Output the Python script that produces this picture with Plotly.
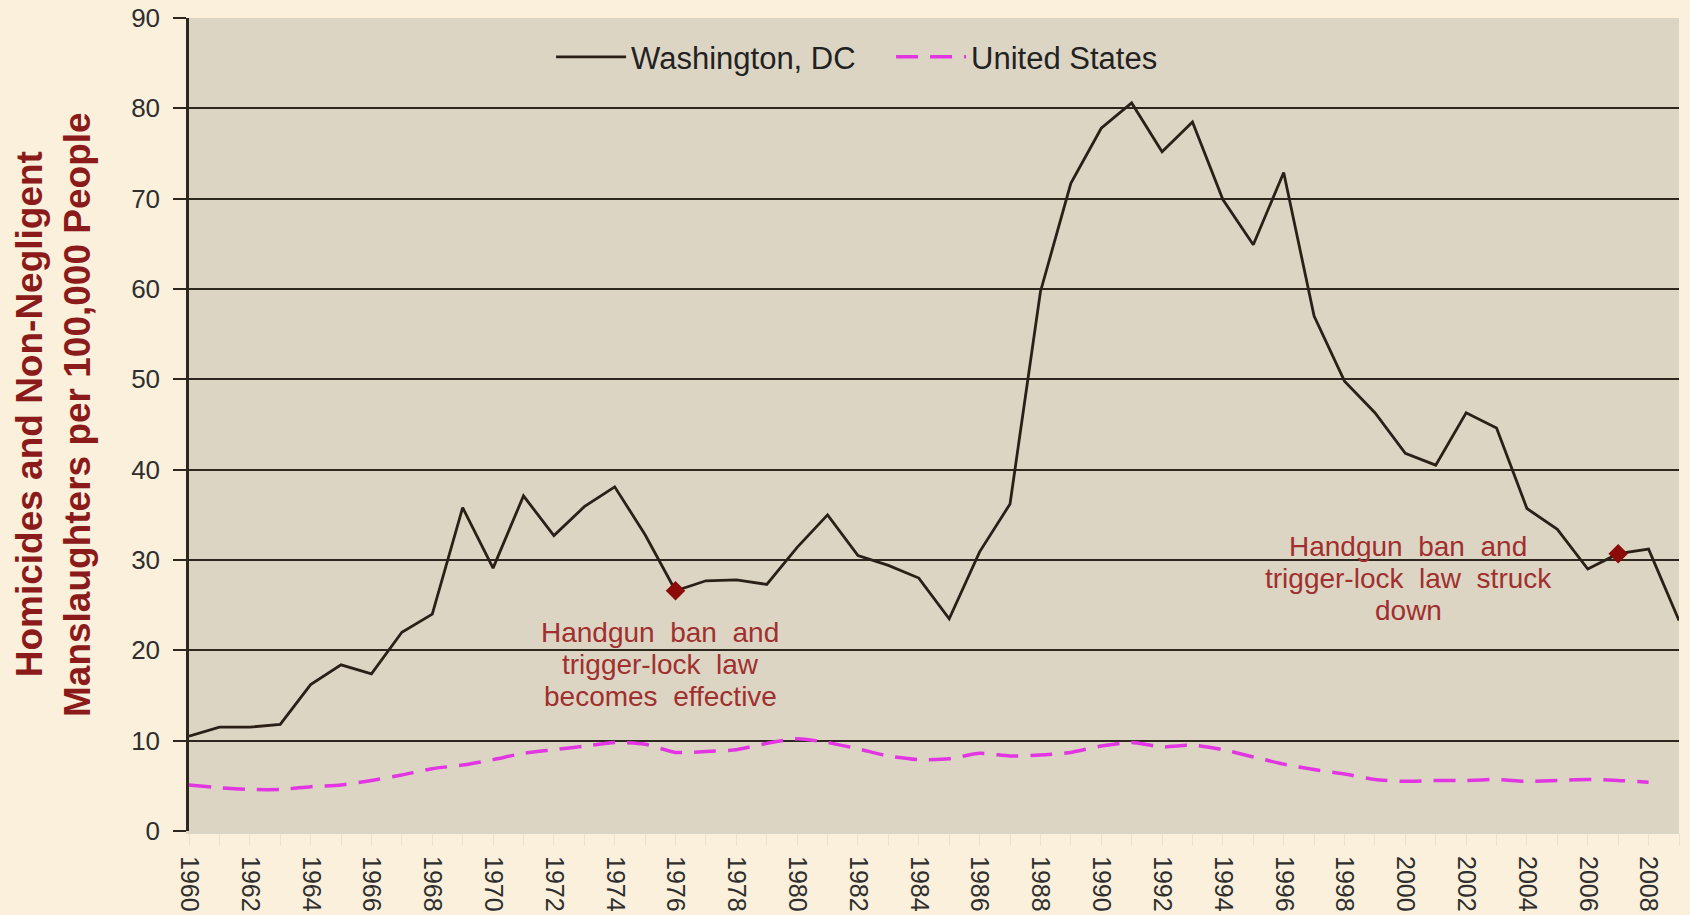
import plotly.graph_objects as go

years = list(range(1960, 2010))
dc_rate = [10.5, 11.5, 11.5, 11.8, 16.2, 18.4, 17.4, 22.0, 24.0, 35.8,
           29.1, 37.1, 32.7, 35.9, 38.1, 32.8, 26.6, 27.7, 27.8, 27.3,
           31.4, 35.0, 30.5, 29.4, 28.0, 23.5, 30.9, 36.2, 59.7, 71.7,
           77.8, 80.6, 75.2, 78.5, 69.9, 64.9, 72.9, 57.0, 49.8, 46.3,
           41.8, 40.5, 46.3, 44.6, 35.7, 33.4, 29.0, 30.7, 31.2, 23.3]
us_years = list(range(1960, 2009))
us_rate = [5.1, 4.8, 4.6, 4.6, 4.9, 5.1, 5.6, 6.2, 6.9, 7.3,
           7.9, 8.6, 9.0, 9.4, 9.8, 9.6, 8.7, 8.8, 9.0, 9.7,
           10.2, 9.8, 9.1, 8.3, 7.9, 8.0, 8.6, 8.3, 8.4, 8.7,
           9.4, 9.8, 9.3, 9.5, 9.0, 8.2, 7.4, 6.8, 6.3, 5.7,
           5.5, 5.6, 5.6, 5.7, 5.5, 5.6, 5.7, 5.6, 5.4]
event_years = [1976, 2007]
event_values = [26.6, 30.7]
SP = "\u00a0 "
event_labels = [[f"Handgun{SP}ban{SP}and", f"trigger-lock{SP}law", f"becomes{SP}effective"],
                [f"Handgun{SP}ban{SP}and", f"trigger-lock{SP}law{SP}struck", "down"]]
label_pos = [(1975.5, 18.4), (2000.1, 27.9)]
y_title = ["Homicides and Non-Negligent", "Manslaughters per 100,000 People"]

FONT = "Arial, Liberation Sans, sans-serif"
RED = "#8b1a1a"
PLOT_BG = "#dcd5c4"
DARK = "#2e271d"
LINE_GAP = 32

fig = go.Figure()
fig.add_trace(go.Scatter(x=years, y=dc_rate, mode="lines", name="Washington, DC",
                         line=dict(color="#2a2018", width=2.8)))
fig.add_trace(go.Scatter(x=us_years, y=us_rate, mode="lines", name="United States",
                         line=dict(color="#e236e2", width=3.5, dash="22px,12px",
                                   shape="spline", smoothing=0.6)))
fig.add_trace(go.Scatter(x=event_years, y=event_values, mode="markers", showlegend=False,
                         marker=dict(symbol="diamond", size=15, color="#8b0a0a")))

for (lx, ly), lines in zip(label_pos, event_labels):
    n = len(lines)
    for i, txt in enumerate(lines):
        fig.add_annotation(x=lx, y=ly, text=txt, showarrow=False, xanchor="center", yanchor="middle",
                           yshift=((n - 1) / 2 - i) * LINE_GAP,
                           font=dict(family=FONT, size=28, color="#a0302f"))

for xp, txt in zip([-0.107, -0.075], y_title):
    fig.add_annotation(x=xp, y=0.512, xref="paper", yref="paper", text="<b>" + txt + "</b>",
                       textangle=-90, showarrow=False, xanchor="center", yanchor="middle",
                       font=dict(family=FONT, size=37, color=RED))

fig.update_layout(
    width=1690, height=915,
    margin=dict(l=189, r=11, t=18, b=84, autoexpand=False),
    paper_bgcolor="#faf0dc",
    plot_bgcolor=PLOT_BG,
    font=dict(family=FONT, color="#222222"),
    legend=dict(orientation="h", x=0.243, y=0.985, xanchor="left", yanchor="top",
                bgcolor="rgba(0,0,0,0)", font=dict(family=FONT, size=31, color="#222222"),
                itemwidth=70, entrywidth=255),
    xaxis=dict(range=[1960, 2009], tickmode="linear", tick0=1960, dtick=2, tickangle=90,
               automargin=False,
               showgrid=False, zeroline=False, showline=True, linecolor=PLOT_BG, linewidth=3,
               ticks="outside", ticklen=12, tickcolor="#ece2cf",
               ticklabelstandoff=5,
               minor=dict(dtick=1, ticks="outside", ticklen=12, tickcolor="#ece2cf"),
               tickfont=dict(family=FONT, size=25, color="#2e2e2e")),
    yaxis=dict(range=[0, 90], tickmode="linear", tick0=0, dtick=10, automargin=False,
               showgrid=True, gridcolor=DARK, gridwidth=1.5, zeroline=False,
               showline=True, linecolor=DARK, linewidth=2.5,
               ticks="outside", ticklen=13, tickcolor=DARK, tickwidth=1.5,
               ticklabelstandoff=8,
               tickfont=dict(family=FONT, size=26, color="#2e2e2e")),
)

fig.write_html("out.html", config={"displayModeBar": False},
               post_script="document.body.style.margin='0';document.body.style.overflow='hidden';")
